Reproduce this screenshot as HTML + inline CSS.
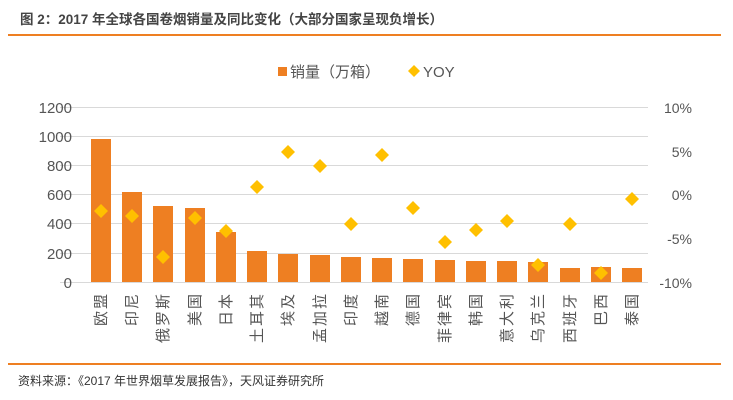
<!DOCTYPE html>
<html><head><meta charset="utf-8"><style>
body{margin:0;background:#fff;}
svg{display:block;font-family:"Liberation Sans","Noto Sans CJK SC",sans-serif;}
</style></head><body>
<svg width="733" height="400" xmlns="http://www.w3.org/2000/svg">
<text x="20" y="24" font-size="13.5" font-weight="bold" fill="#444">图 2：2017 年全球各国卷烟销量及同比变化（大部分国家呈现负增长）</text>
<rect x="8" y="34" width="713" height="2" fill="#ee7f22"/>
<rect x="8" y="363" width="713" height="2" fill="#ee7f22"/>
<text x="18" y="385" font-size="12" fill="#333">资料来源：《2017 年世界烟草发展报告》，天风证券研究所</text>
<rect x="278" y="67" width="9" height="9" fill="#ee7f22"/>
<text x="290" y="77" font-size="15" fill="#555">销量（万箱）</text>
<path d="M414,65 l6,6 l-6,6 l-6,-6z" fill="#ffc000"/>
<text x="423" y="77" font-size="15" fill="#555">YOY</text>
<g stroke="#d9d9d9" stroke-width="1">
<line x1="60" y1="107.5" x2="648" y2="107.5"/><line x1="60" y1="136.5" x2="648" y2="136.5"/><line x1="60" y1="165.5" x2="648" y2="165.5"/><line x1="60" y1="194.5" x2="648" y2="194.5"/><line x1="60" y1="223.5" x2="648" y2="223.5"/><line x1="60" y1="253.5" x2="648" y2="253.5"/><line x1="60" y1="282.5" x2="648" y2="282.5"/>
</g>
<g font-size="15" fill="#555" text-anchor="end">
<text x="72" y="113">1200</text><text x="72" y="142">1000</text><text x="72" y="171">800</text><text x="72" y="200">600</text><text x="72" y="229">400</text><text x="72" y="259">200</text><text x="72" y="288">0</text>
</g>
<g font-size="14" fill="#555" text-anchor="end">
<text x="692" y="113">10%</text><text x="692" y="157">5%</text><text x="692" y="200">0%</text><text x="692" y="244">-5%</text><text x="692" y="288">-10%</text>
</g>
<g fill="#ee7f22">
<rect x="91" y="139" width="20" height="143"/><rect x="122" y="192" width="20" height="90"/><rect x="153" y="206" width="20" height="76"/><rect x="185" y="208" width="20" height="74"/><rect x="216" y="232" width="20" height="50"/><rect x="247" y="251" width="20" height="31"/><rect x="278" y="254" width="20" height="28"/><rect x="310" y="255" width="20" height="27"/><rect x="341" y="257" width="20" height="25"/><rect x="372" y="258" width="20" height="24"/><rect x="403" y="259" width="20" height="23"/><rect x="435" y="260" width="20" height="22"/><rect x="466" y="261" width="20" height="21"/><rect x="497" y="261" width="20" height="21"/><rect x="528" y="262" width="20" height="20"/><rect x="560" y="268" width="20" height="14"/><rect x="591" y="267" width="20" height="15"/><rect x="622" y="268" width="20" height="14"/>
</g>
<g fill="#ffc000">
<path d="M101,204l7,7l-7,7l-7,-7z"/><path d="M132,209l7,7l-7,7l-7,-7z"/><path d="M163,250l7,7l-7,7l-7,-7z"/><path d="M195,211l7,7l-7,7l-7,-7z"/><path d="M226,224l7,7l-7,7l-7,-7z"/><path d="M257,180l7,7l-7,7l-7,-7z"/><path d="M288,145l7,7l-7,7l-7,-7z"/><path d="M320,159l7,7l-7,7l-7,-7z"/><path d="M351,217l7,7l-7,7l-7,-7z"/><path d="M382,148l7,7l-7,7l-7,-7z"/><path d="M413,201l7,7l-7,7l-7,-7z"/><path d="M445,235l7,7l-7,7l-7,-7z"/><path d="M476,223l7,7l-7,7l-7,-7z"/><path d="M507,214l7,7l-7,7l-7,-7z"/><path d="M538,258l7,7l-7,7l-7,-7z"/><path d="M570,217l7,7l-7,7l-7,-7z"/><path d="M601,266l7,7l-7,7l-7,-7z"/><path d="M632,192l7,7l-7,7l-7,-7z"/>
</g>
<g font-size="15" fill="#555" text-anchor="end" letter-spacing="2">
<text transform="translate(106,292) rotate(-90)">欧盟</text>
<text transform="translate(137,292) rotate(-90)">印尼</text>
<text transform="translate(168,292) rotate(-90)">俄罗斯</text>
<text transform="translate(200,292) rotate(-90)">美国</text>
<text transform="translate(231,292) rotate(-90)">日本</text>
<text transform="translate(262,292) rotate(-90)">土耳其</text>
<text transform="translate(293,292) rotate(-90)">埃及</text>
<text transform="translate(325,292) rotate(-90)">孟加拉</text>
<text transform="translate(356,292) rotate(-90)">印度</text>
<text transform="translate(387,292) rotate(-90)">越南</text>
<text transform="translate(418,292) rotate(-90)">德国</text>
<text transform="translate(450,292) rotate(-90)">菲律宾</text>
<text transform="translate(481,292) rotate(-90)">韩国</text>
<text transform="translate(512,292) rotate(-90)">意大利</text>
<text transform="translate(543,292) rotate(-90)">乌克兰</text>
<text transform="translate(575,292) rotate(-90)">西班牙</text>
<text transform="translate(606,292) rotate(-90)">巴西</text>
<text transform="translate(637,292) rotate(-90)">泰国</text>
</g>
</svg>
</body></html>
